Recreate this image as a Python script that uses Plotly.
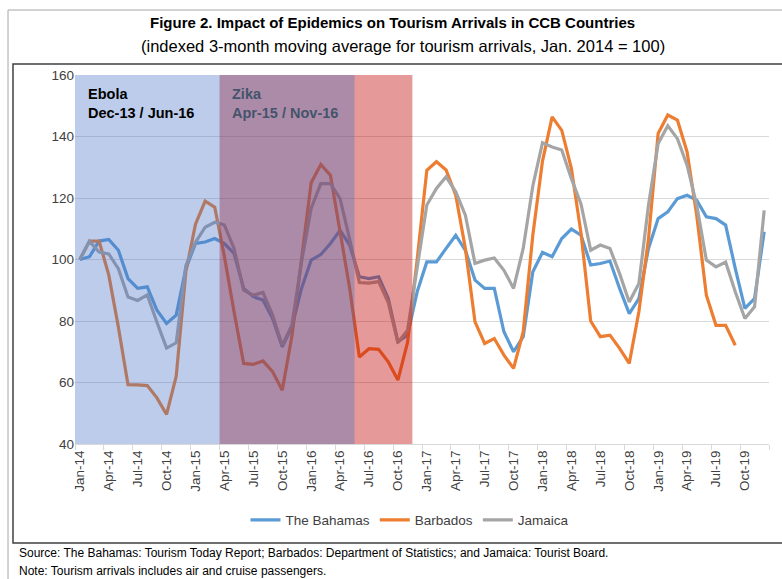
import plotly.graph_objects as go

# ---------------- data ----------------
month_names = ["Jan", "Feb", "Mar", "Apr", "May", "Jun", "Jul", "Aug", "Sep", "Oct", "Nov", "Dec"]
years = ["14", "15", "16", "17", "18", "19"]
months = [f"{m}-{y}" for y in years for m in month_names]  # Jan-14 ... Dec-19

bahamas = [100, 100.9, 106, 106.5, 103, 93.8, 90.6, 91.1, 83.5, 79.2, 81.9, 97.1,
           105.2, 105.7, 106.8, 105.2, 102, 90.6, 87.9, 86.8, 80.8, 71.6, 78.1, 90.6,
           99.8, 101.6, 105.2, 109.5, 104.7, 94.4, 93.8, 94.4, 87.3, 73.2, 75.4, 89.5,
           99.2, 99.2, 103.6, 107.9, 103, 93.3, 90.6, 90.6, 76.5, 70, 74.9, 96,
           102.3, 100.9, 106.8, 109.9, 107.9, 98.2, 98.7, 99.5, 90.6, 82.4, 87.3, 103.6,
           113.3, 115.5, 119.8, 120.9, 119.3, 113.9, 113.3, 111.2, 97.1, 84.1, 87.3, 109]

barbados = [100, 106, 106, 95, 78, 59.3, 59.2, 59, 55, 49.6, 62, 96,
            111.5, 119, 117, 101, 83, 66.2, 65.9, 67, 63.5, 57.5, 75, 100,
            125, 130.9, 127.4, 109, 90.6, 68.3, 71, 70.8, 66.7, 60.8, 73, 100,
            129, 131.8, 129.1, 120.9, 103.6, 79.7, 72.7, 74.3, 68.9, 64.6, 76.5, 108,
            132, 146.4, 142, 129.6, 108.5, 80, 74.9, 75.4, 71.1, 66.2, 83, 106.8,
            141, 147, 145.3, 135, 114.4, 88.4, 78.6, 78.6, 72.1]

jamaica = [100, 105.9, 102.4, 101.8, 97, 87.8, 86.7, 88.5, 79.6, 71.2, 72.9, 98,
           105.6, 110.5, 112.1, 111.2, 103.6, 90, 88.4, 89.3, 81.9, 72.1, 78.6, 99.2,
           116.6, 124.7, 124.7, 119.8, 106.5, 92.5, 92.3, 92.8, 86, 73, 77, 97,
           117.7, 123.1, 126.9, 122, 114.4, 98.7, 99.8, 100.5, 96.5, 90.6, 103.6, 124,
           138, 136.6, 135.6, 126.3, 118, 103, 104.7, 103.6, 95.4, 86.2, 92.2, 117.7,
           137.7, 143.5, 139.3, 130.7, 117.7, 99.8, 97.6, 99.2, 89.5, 80.8, 84.6, 116]

tick_labels = months[::3]
y_ticks = [40, 60, 80, 100, 120, 140, 160]

# epidemic windows (month labels as shown in the chart)
ebola_start, ebola_end = "Jan-14", "Jun-16"
zika_start, zika_end = "Apr-15", "Nov-16"

# ---------------- figure ----------------
W, H = 782, 579
L, R, T, B = 75, 13, 75, 135
PW, PH = W - L - R, H - T - B


def px(x):
    return (x - L) / PW


def py(y):
    return (H - B - y) / PH


idx = list(range(len(months)))
FONT = "Liberation Sans, Arial, sans-serif"

fig = go.Figure()
series = [("The Bahamas", bahamas, "#5b9bd5"),
          ("Barbados", barbados, "#ed7d31"),
          ("Jamaica", jamaica, "#a5a5a5")]
for name, vals, col in series:
    fig.add_trace(go.Scatter(x=idx[:len(vals)], y=vals, name=name, mode="lines",
                             line=dict(color=col, width=3.2)))

i_eb0 = months.index(ebola_start) - 0.5
i_eb1 = months.index(ebola_end) - 0.5
i_zk0 = months.index(zika_start) - 0.5
i_zk1 = months.index(zika_end) + 0.5

shapes = [
    # Zika window (red), then Ebola window (blue) on top
    dict(type="rect", xref="x", yref="y", x0=i_zk0, x1=i_zk1, y0=40, y1=160,
         fillcolor="rgba(192,0,0,0.40)", line=dict(width=0), layer="above"),
    dict(type="rect", xref="x", yref="y", x0=i_eb0, x1=i_eb1, y0=40, y1=160,
         fillcolor="rgba(68,114,196,0.36)", line=dict(width=0), layer="above"),
    # inner chart box
    dict(type="rect", xref="paper", yref="paper", x0=px(13), x1=px(800), y0=py(543), y1=py(64),
         line=dict(color="#404040", width=1.5), fillcolor="rgba(0,0,0,0)", layer="below"),
    # outer frame
    dict(type="line", xref="paper", yref="paper", x0=px(8), x1=px(800), y0=py(10), y1=py(10),
         line=dict(color="#a6a6a6", width=1)),
    dict(type="line", xref="paper", yref="paper", x0=px(8), x1=px(8), y0=py(10), y1=py(579),
         line=dict(color="#a6a6a6", width=1)),
]

annotations = [
    dict(text="<b>Figure 2. Impact of Epidemics on Tourism Arrivals in CCB Countries</b>",
         xref="paper", yref="paper", x=px(392), y=py(22), xanchor="center", yanchor="middle",
         showarrow=False, font=dict(size=15, color="#000000", family=FONT)),
    dict(text="(indexed 3-month moving average for tourism arrivals, Jan. 2014 = 100)",
         xref="paper", yref="paper", x=px(403), y=py(46), xanchor="center", yanchor="middle",
         showarrow=False, font=dict(size=16.5, color="#000000", family=FONT)),
    dict(text="<b>Ebola<br>Dec-13 / Jun-16</b>", xref="paper", yref="paper",
         x=px(86), y=py(84), xanchor="left", yanchor="top", align="left",
         showarrow=False, font=dict(size=14.5, color="#000000", family=FONT)),
    dict(text="<b>Zika<br>Apr-15 / Nov-16</b>", xref="paper", yref="paper",
         x=px(230), y=py(84), xanchor="left", yanchor="top", align="left",
         showarrow=False, font=dict(size=14.5, color="#44546a", family=FONT)),
    dict(text="Source: The Bahamas: Tourism Today Report; Barbados: Department of Statistics; and Jamaica: Tourist Board.",
         xref="paper", yref="paper", x=px(17), y=py(553), xanchor="left", yanchor="middle",
         showarrow=False, font=dict(size=12, color="#000000", family=FONT)),
    dict(text="Note: Tourism arrivals includes air and cruise passengers.",
         xref="paper", yref="paper", x=px(17), y=py(571), xanchor="left", yanchor="middle",
         showarrow=False, font=dict(size=12, color="#000000", family=FONT)),
]

fig.update_layout(
    width=W, height=H,
    margin=dict(l=L, r=R, t=T, b=B),
    paper_bgcolor="white", plot_bgcolor="white",
    shapes=shapes, annotations=annotations,
    showlegend=True,
    legend=dict(orientation="h", x=px(410), y=py(520), xanchor="center", yanchor="middle",
                font=dict(size=13.5, color="#404040", family=FONT), bgcolor="rgba(0,0,0,0)",
                itemwidth=30, tracegroupgap=0),
    font=dict(family=FONT, color="#404040"),
)

fig.update_xaxes(
    range=[-0.5, len(months) - 0.5],
    tickmode="array", tickvals=idx[::3], ticktext=tick_labels,
    tickangle=-90, ticks="", showgrid=False, zeroline=False,
    showline=True, linecolor="#d9d9d9", linewidth=1,
    tickfont=dict(size=13.5, color="#404040", family=FONT),
    minor=dict(tickmode="linear", tick0=-0.5, dtick=3, ticks="outside", ticklen=5,
               tickcolor="#d9d9d9", showgrid=False),
)
fig.update_yaxes(
    range=[40, 160], tickmode="array", tickvals=y_ticks,
    showgrid=True, gridcolor="#d9d9d9", gridwidth=1, zeroline=False,
    showline=False, ticks="",
    tickfont=dict(size=13.5, color="#404040", family=FONT),
)

fig.write_html("out.html", config={"displayModeBar": False},
               post_script="document.body.style.margin='0';document.body.style.overflow='hidden';")
